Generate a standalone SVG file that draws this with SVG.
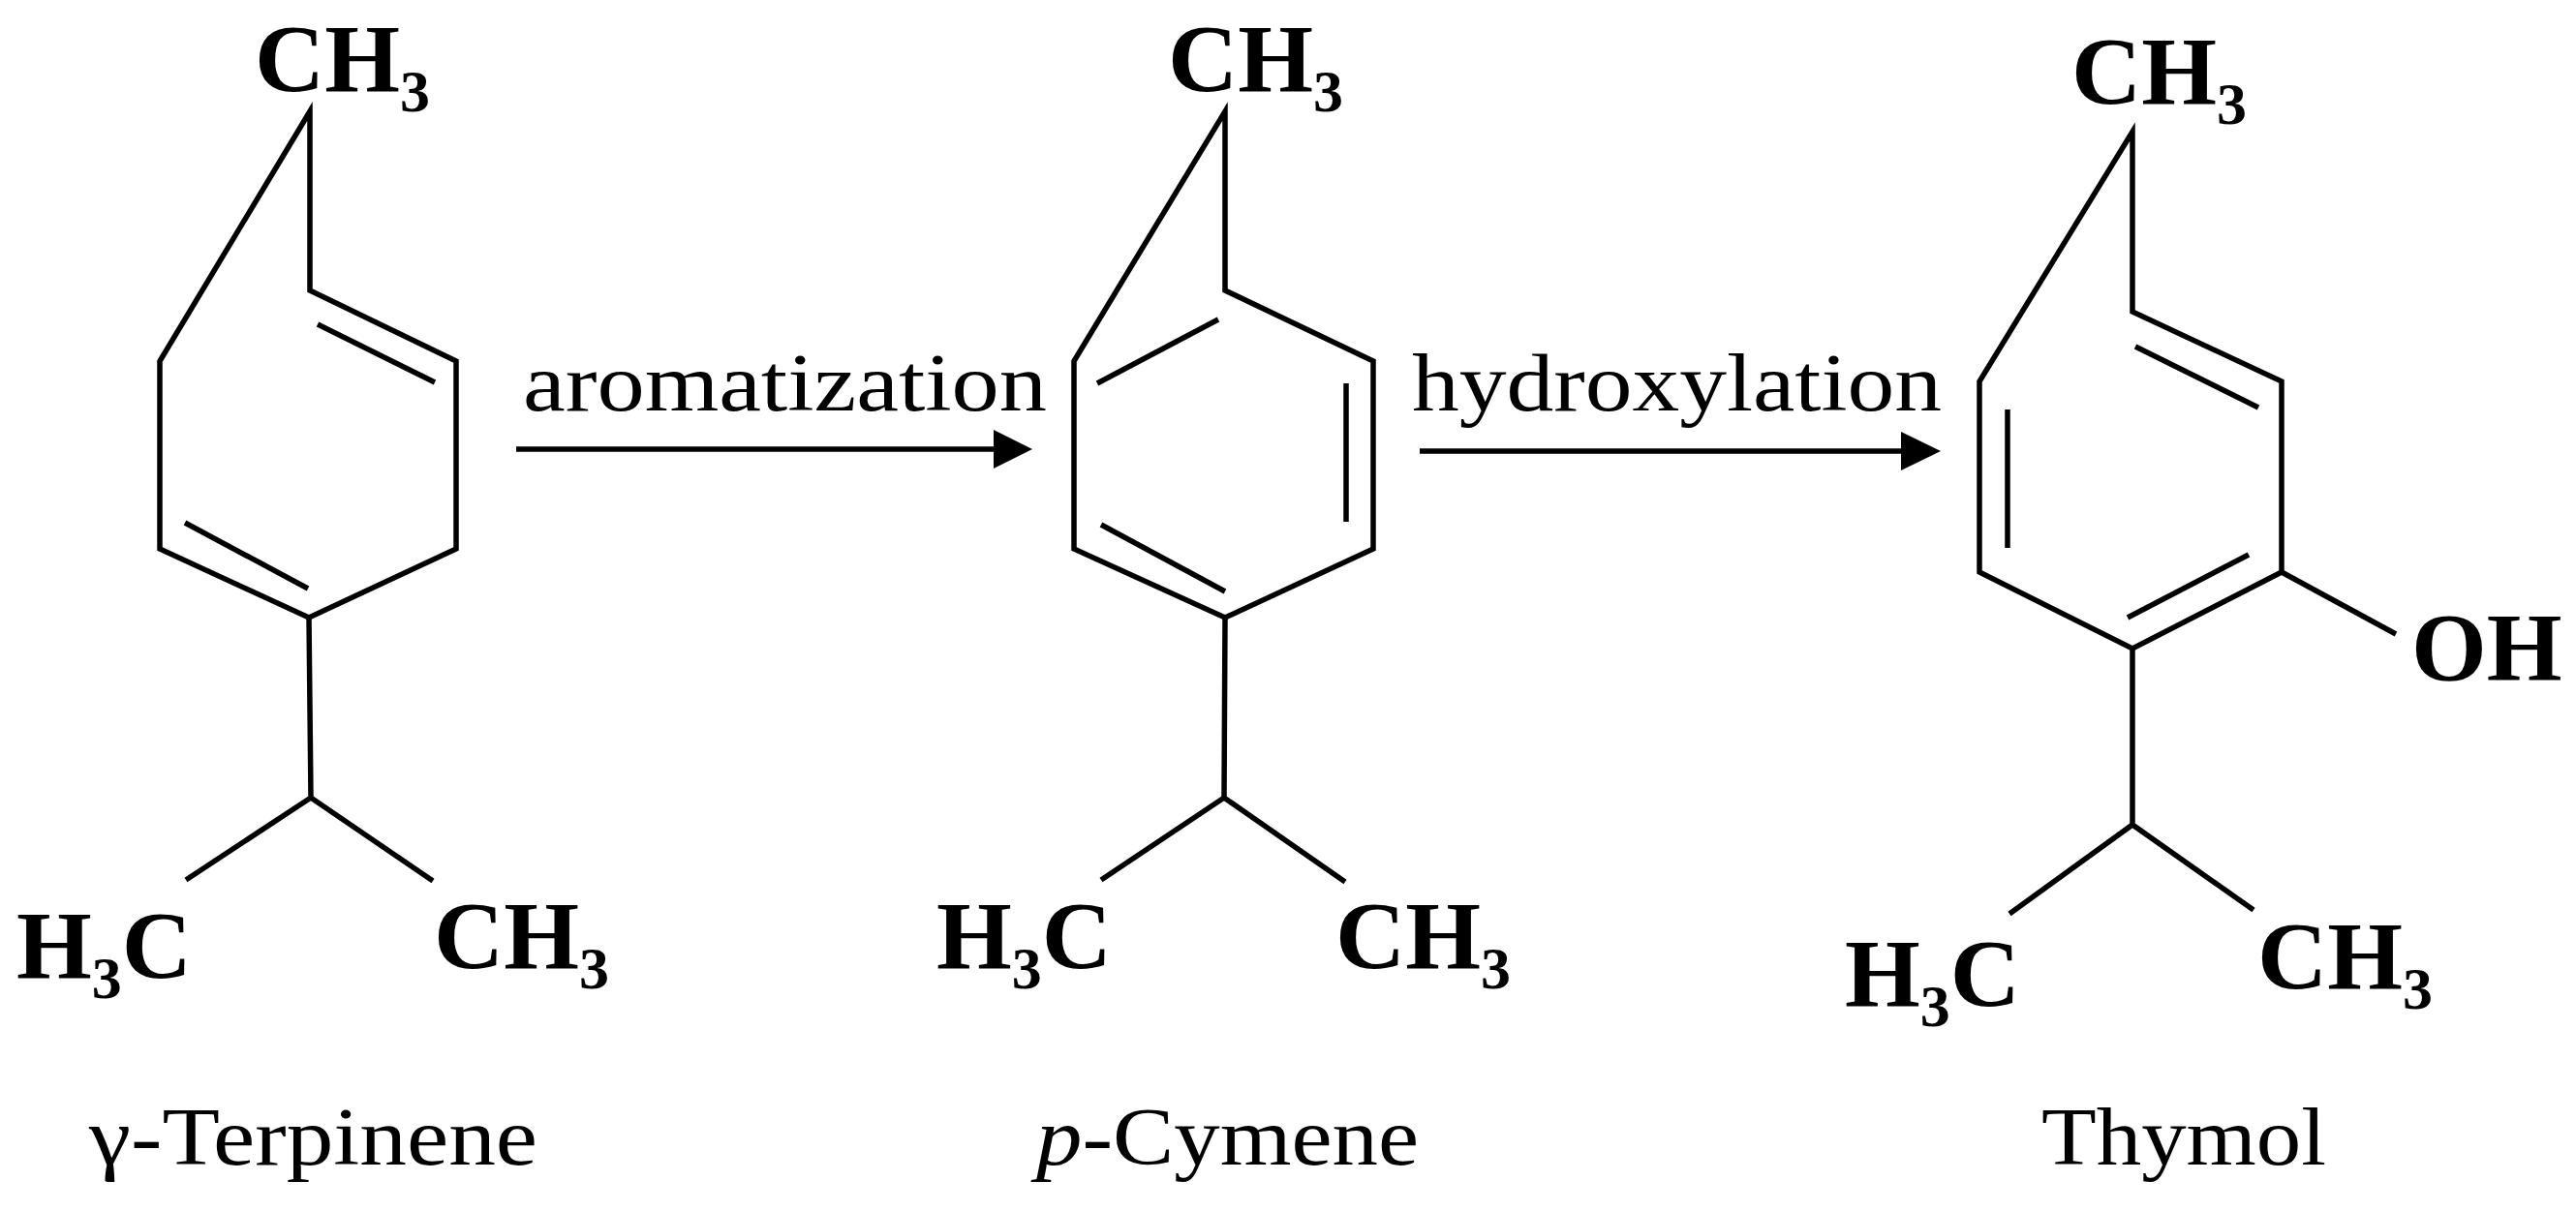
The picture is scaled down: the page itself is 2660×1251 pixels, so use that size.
<svg xmlns="http://www.w3.org/2000/svg" width="2660" height="1251" viewBox="0 0 2660 1251">
<style>
.b{stroke:#000;stroke-width:5.5;fill:none;stroke-linejoin:miter;stroke-linecap:butt}
.lb{font-family:"Liberation Serif",serif;font-weight:bold;font-size:100px;fill:#000}
.sub{font-size:62px}
.tx{font-family:"Liberation Serif",serif;font-size:84px;fill:#000}
</style>
<defs>
<marker id="ah" markerWidth="10" markerHeight="10" refX="10" refY="5" orient="auto" markerUnits="userSpaceOnUse" viewBox="0 0 10 10">
<path d="M0,0 L10,5 L0,10 Z" fill="#000"/>
</marker>
</defs>
<rect width="2660" height="1251" fill="#fff"/>
<g id="terpinene">
<path class="b" d="M320,115 L320,300 L471,373 L471,567 L319,638 L165,567 L165,373 Z"/>
<path class="b" d="M328,335 L449,395 M191,540 L318,608"/>
<path class="b" d="M319,638 L321,824 M192,909 L321,824 L447,910"/>
<text class="lb" x="263" y="94">CH<tspan class="sub" dy="21">3</tspan></text>
<text class="lb" x="17" y="1010">H<tspan class="sub" dy="21">3</tspan><tspan dy="-21">C</tspan></text>
<text class="lb" x="448" y="1000">CH<tspan class="sub" dy="21">3</tspan></text>
<text class="tx" x="92" y="1203" textLength="463" lengthAdjust="spacingAndGlyphs">γ-Terpinene</text>
</g>
<g id="cymene">
<path class="b" d="M1265,115 L1265,300 L1418,373 L1418,567 L1265,638 L1109,567 L1109,373 Z"/>
<path class="b" d="M1133,396 L1258,330 M1390,396 L1390,539 M1137,542 L1265,611"/>
<path class="b" d="M1265,638 L1264,824 M1137,909 L1264,824 L1389,911"/>
<text class="lb" x="1206" y="94">CH<tspan class="sub" dy="21">3</tspan></text>
<text class="lb" x="967" y="1000">H<tspan class="sub" dy="21">3</tspan><tspan dy="-21">C</tspan></text>
<text class="lb" x="1379" y="1000">CH<tspan class="sub" dy="21">3</tspan></text>
<text class="tx" x="1070" y="1203" textLength="395" lengthAdjust="spacingAndGlyphs"><tspan font-style="italic">p</tspan>-Cymene</text>
</g>
<g id="thymol">
<path class="b" d="M2202,136 L2202,322 L2356,394 L2356,591 L2202,670 L2044,591 L2044,394 Z"/>
<path class="b" d="M2205,358 L2332,421 M2073,423 L2073,566 M2197,638 L2322,573"/>
<path class="b" d="M2356,591 L2474,655"/>
<path class="b" d="M2202,670 L2202,852 M2075,944 L2202,852 L2327,940"/>
<text class="lb" x="2139" y="107">CH<tspan class="sub" dy="21">3</tspan></text>
<text class="lb" x="2490" y="702">OH</text>
<text class="lb" x="1905" y="1039">H<tspan class="sub" dy="21">3</tspan><tspan dy="-21">C</tspan></text>
<text class="lb" x="2331" y="1021">CH<tspan class="sub" dy="21">3</tspan></text>
<text class="tx" x="2108" y="1203" textLength="294" lengthAdjust="spacingAndGlyphs">Thymol</text>
</g>
<g id="connectors">
<line class="b" x1="533" y1="464" x2="1028" y2="464"/>
<path d="M1026,444 L1066,464 L1026,484 Z" fill="#000"/>
<text class="tx" x="540" y="424" textLength="541" lengthAdjust="spacingAndGlyphs">aromatization</text>
<line class="b" x1="1466" y1="466" x2="1965" y2="466"/>
<path d="M1963,446 L2004,466 L1963,486 Z" fill="#000"/>
<text class="tx" x="1458" y="424" textLength="547" lengthAdjust="spacingAndGlyphs">hydroxylation</text>
</g>
</svg>
